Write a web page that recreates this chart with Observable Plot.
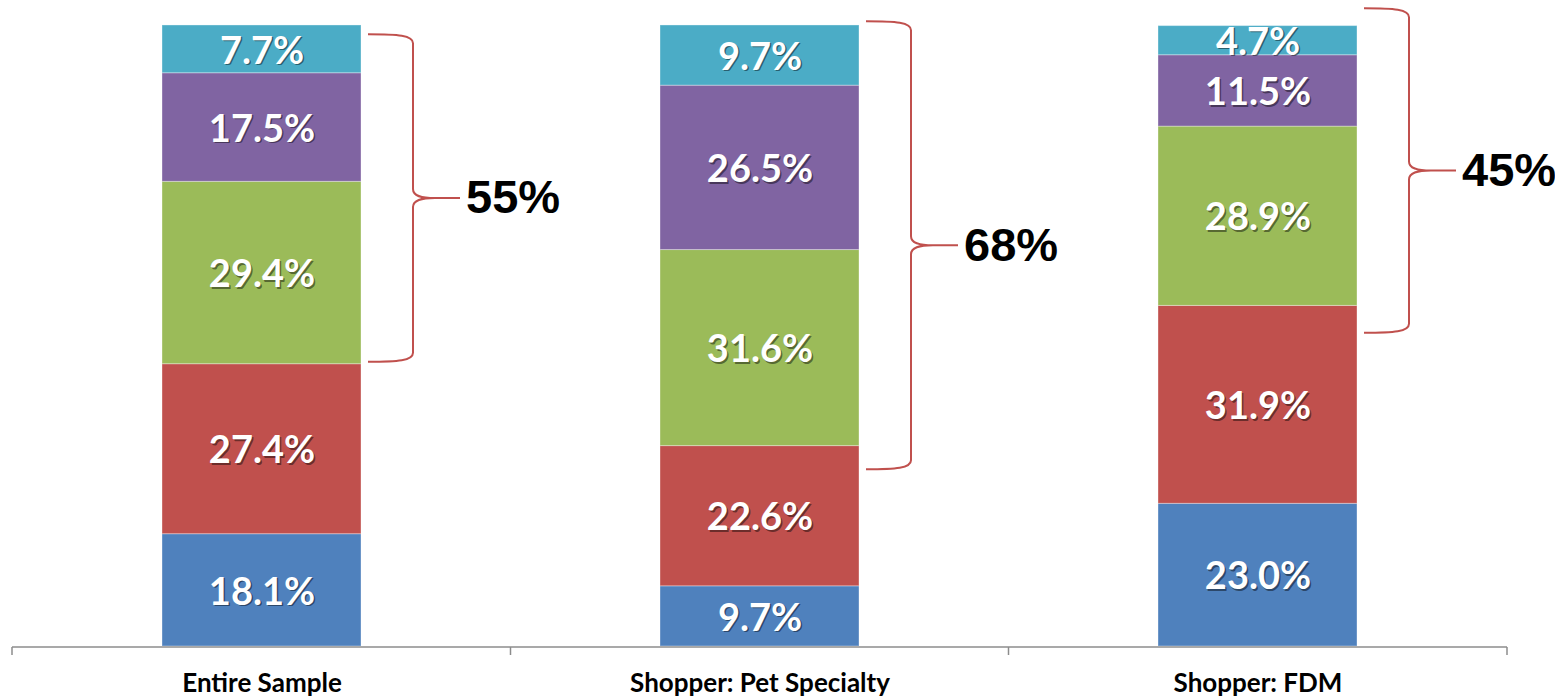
<!DOCTYPE html>
<html>
<head>
<meta charset="utf-8">
<script src="https://cdn.jsdelivr.net/npm/d3@7"></script>
<script src="https://cdn.jsdelivr.net/npm/@observablehq/plot@0.6"></script>
<style>
  html, body { margin: 0; padding: 0; background: #fff; }
  #chart svg { display: block; }
</style>
</head>
<body>
<div id="chart"></div>
<script>
// ---- data ----
const categories = ["Entire Sample", "Shopper: Pet Specialty", "Shopper: FDM"];
const seriesNames = ["Segment 1", "Segment 2", "Segment 3", "Segment 4", "Segment 5"];
const segment1 = [18.1, 9.7, 23.0];   // blue (bottom)
const segment2 = [27.4, 22.6, 31.9];  // red
const segment3 = [29.4, 31.6, 28.9];  // green
const segment4 = [17.5, 26.5, 11.5];  // purple
const segment5 = [7.7, 9.7, 4.7];     // cyan (top)
const braceLabels = ["55%", "68%", "45%"];
const braceLow = [45.8, 28.5, 50.5];
const braceHigh = [98.6, 100.7, 102.8];

const seriesColors = ["#4F81BD", "#C0504D", "#9BBB59", "#8064A2", "#4BACC6"];

// ---- table ----
const seriesValues = [segment1, segment2, segment3, segment4, segment5];
const rows = [];
categories.forEach((c, i) => {
  let acc = 0;
  seriesValues.forEach((vals, s) => {
    const v = vals[i];
    rows.push({category: c, series: seriesNames[s], value: v, y1: acc, y2: acc + v, mid: acc + v / 2, label: v.toFixed(1) + "%"});
    acc += v;
  });
});
const braces = categories.map((c, i) => ({category: c, lo: braceLow[i], hi: braceHigh[i], label: braceLabels[i]}));

function decorations(index, scales, values, dimensions) {
  const sx = scales.x, sy = scales.y;
  let bw = sx.bandwidth;
  if (typeof bw === "function") bw = bw();
  if (bw == null && scales.scales) bw = scales.scales.x.bandwidth;
  const step = (scales.scales && scales.scales.x.step) || (bw / 0.4);
  const g = d3.create("svg:g");
  const y0 = sy(0) + 1;
  const left = dimensions.marginLeft, right = dimensions.width - dimensions.marginRight;
  // axis line
  g.append("line").attr("x1", left).attr("x2", right).attr("y1", y0).attr("y2", y0)
    .attr("stroke", "#8c8c8c").attr("stroke-width", 1.5);
  // boundary ticks
  const ticks = categories.map(c => sx(c) - (step - bw) / 2);
  ticks.push(right);
  ticks[0] = left;
  ticks.forEach(t => g.append("line").attr("x1", t).attr("x2", t).attr("y1", y0).attr("y2", y0 + 8)
    .attr("stroke", "#8c8c8c").attr("stroke-width", 1.5));
  // braces
  braces.forEach(b => {
    const xr = sx(b.category) + bw;
    const L = xr + 7, V = xr + 52, T = xr + 99;
    const top = sy(b.hi), bot = sy(b.lo), mid = (top + bot) / 2;
    const r = 9;
    const d = `M${L},${top} C${L + 30},${top} ${V},${top + 1} ${V},${top + r}` +
      ` L${V},${mid - r} C${V},${mid - 2} ${V + 8},${mid} ${V + 22},${mid} L${T},${mid}` +
      ` M${V + 22},${mid} C${V + 8},${mid} ${V},${mid + 2} ${V},${mid + r}` +
      ` L${V},${bot - r} C${V},${bot - 1} ${L + 30},${bot} ${L},${bot}`;
    g.append("path").attr("d", d).attr("fill", "none").attr("stroke", "#C0504D").attr("stroke-width", 2);
    g.append("text").attr("x", T + 6).attr("y", mid + 3)
      .attr("text-anchor", "start")
      .attr("dominant-baseline", "middle")
      .attr("font-family", "'Liberation Sans', Arial, sans-serif")
      .attr("font-weight", "bold").attr("font-size", 47).attr("fill", "#000")
      .text(b.label);
  });
  return g.node();
}

const plot = Plot.plot({
  width: 1555,
  height: 699,
  marginTop: 25.6,
  marginBottom: 53,
  marginLeft: 12,
  marginRight: 48,
  style: {fontFamily: "Lato, 'Open Sans', sans-serif", background: "#fff", overflow: "visible"},
  x: {domain: categories, paddingInner: 0.6, paddingOuter: 0.3, axis: null},
  y: {domain: [0, 100], axis: null},
  color: {domain: seriesNames, range: seriesColors},
  marks: [
    Plot.rectY(rows, {x: "category", y1: "y1", y2: "y2", fill: "series", stroke: "#ffffff", strokeOpacity: 0.35, strokeWidth: 1, clip: false}),
    Plot.text(rows, {x: "category", y: "mid", text: "label", fill: "#000", fillOpacity: 0.45, dx: 1.5, dy: 3.5, fontSize: 38, fontWeight: "bold"}),
    Plot.text(rows, {x: "category", y: "mid", text: "label", fill: "#fff", dy: 2, fontSize: 38, fontWeight: "bold"}),
    Plot.axisX({tickSize: 0, tickPadding: 27, fontSize: 26, fontWeight: "bold", fill: "#000", label: null}),
    decorations
  ]
});
document.getElementById("chart").appendChild(plot);
</script>
</body>
</html>
